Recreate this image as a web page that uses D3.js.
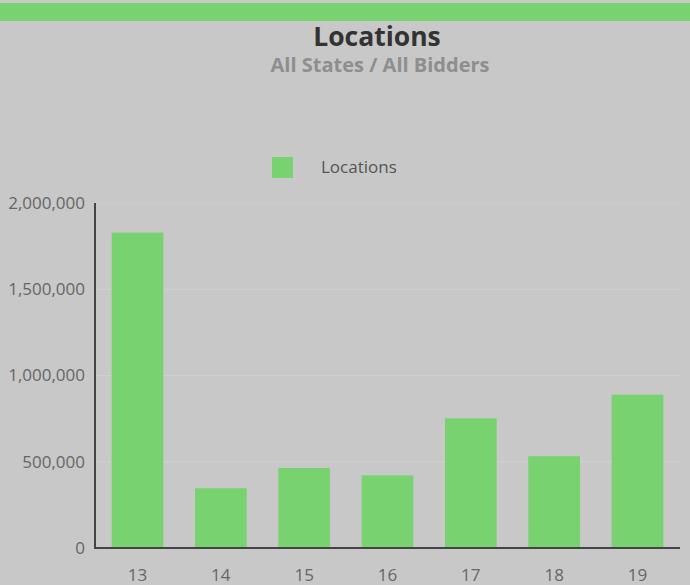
<!DOCTYPE html>
<html>
<head>
<meta charset="utf-8">
<script src="https://cdn.jsdelivr.net/npm/d3@7"></script>
<style>
  body { margin: 0; background: #c8c8c8; font-family: "Open Sans", sans-serif; }
  .tick line { display: none; }
</style>
</head>
<body>
<script>
var years = ["13", "14", "15", "16", "17", "18", "19"];
var locations = [1828000, 346000, 464000, 421000, 752000, 532000, 889000];
var yTicks = [0, 500000, 1000000, 1500000, 2000000];

var W = 690, H = 585;
var m = { t: 203, r: 10, b: 37, l: 95 },
  width = W - m.l - m.r,
  height = H - m.t - m.b;

var svg = d3.select("body").append("svg")
  .attr("width", W)
  .attr("height", H);

svg.append("rect")
  .attr("width", W).attr("height", H)
  .attr("fill", "#c8c8c8");

// green strip at top
svg.append("rect")
  .attr("x", 0).attr("y", 3)
  .attr("width", W).attr("height", 18)
  .attr("fill", "#77d26f");

svg.append("text")
  .attr("x", 377).attr("y", 46)
  .attr("text-anchor", "middle")
  .style("font-size", "26.5px")
  .style("font-weight", "bold")
  .attr("fill", "#333")
  .text("Locations");

svg.append("text")
  .attr("x", 380).attr("y", 72)
  .attr("text-anchor", "middle")
  .style("font-size", "20px")
  .style("font-weight", "bold")
  .attr("fill", "#8e8e8e")
  .text("All States / All Bidders");

// legend
svg.append("rect")
  .attr("x", 272).attr("y", 157)
  .attr("width", 21).attr("height", 21)
  .attr("fill", "#77d26f");
svg.append("text")
  .attr("x", 321).attr("y", 173)
  .style("font-size", "17px")
  .attr("fill", "#555")
  .text("Locations");

var g = svg.append("g")
  .attr("transform", "translate(" + m.l + "," + m.t + ")");

var x = d3.scaleBand().domain(years).range([0, width])
  .paddingInner(0.38).paddingOuter(0.2);
var y = d3.scaleLinear().domain([0, 2000000]).range([height, 0]);

// gridlines
g.selectAll(".grid")
  .data(yTicks.slice(1))
  .enter().append("line")
  .attr("x1", 0).attr("x2", width)
  .attr("y1", function(d) { return y(d); })
  .attr("y2", function(d) { return y(d); })
  .attr("stroke", "#d0d0d0")
  .attr("stroke-width", 1);

g.selectAll(".bar")
  .data(locations)
  .enter().append("rect")
  .attr("class", "bar")
  .attr("x", function(d, i) { return x(years[i]); })
  .attr("width", x.bandwidth())
  .attr("y", function(d) { return y(d); })
  .attr("height", function(d) { return height - y(d); })
  .attr("fill", "#77d26f");

var yAxis = g.append("g")
  .call(d3.axisLeft(y).tickValues(yTicks).tickFormat(d3.format(",")).tickSize(0).tickPadding(10));
yAxis.select(".domain").remove();
yAxis.selectAll("text")
  .style("font-size", "17px")
  .style("font-family", "Open Sans")
  .attr("fill", "#666");

var xAxis = g.append("g")
  .attr("transform", "translate(0," + height + ")")
  .call(d3.axisBottom(x).tickSize(0).tickPadding(21));
xAxis.select(".domain").remove();
xAxis.selectAll("text")
  .style("font-size", "17px")
  .style("font-family", "Open Sans")
  .attr("fill", "#666");

g.append("line")
  .attr("x1", 0).attr("x2", 0)
  .attr("y1", 0).attr("y2", height)
  .attr("stroke", "#444").attr("stroke-width", 2);
g.append("line")
  .attr("x1", -1).attr("x2", width)
  .attr("y1", height).attr("y2", height)
  .attr("stroke", "#444").attr("stroke-width", 2);
</script>
</body>
</html>
